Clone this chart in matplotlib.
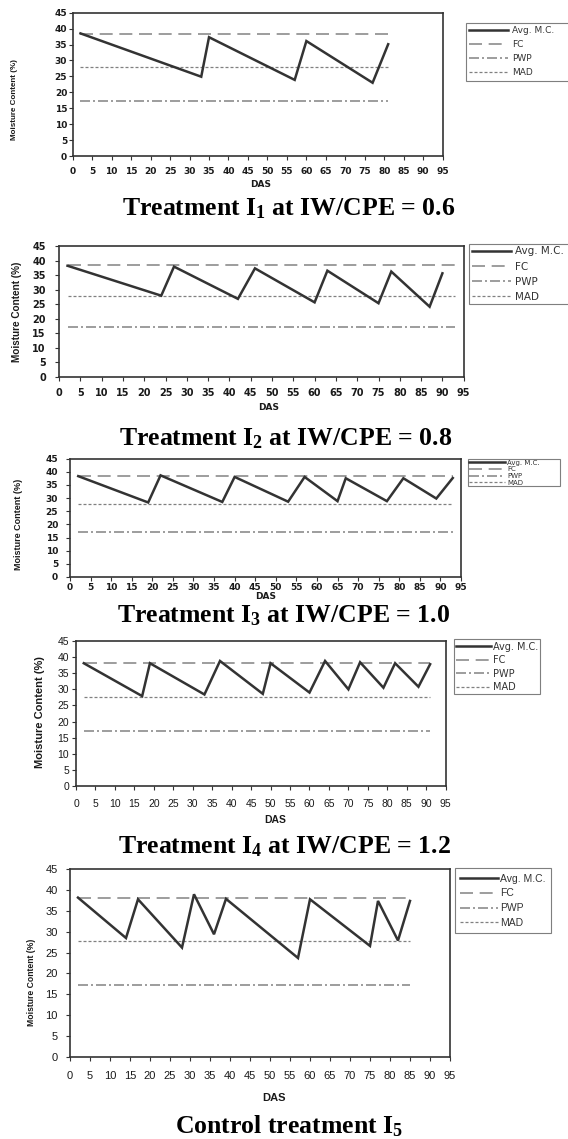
import matplotlib
matplotlib.use("Agg")
import matplotlib.pyplot as plt

W, H = 568, 1139

# ---- data ----
das_ticks = list(range(0, 100, 5))
mc_ticks = list(range(0, 50, 5))

i1_das = [2, 33, 35, 57, 60, 77, 81]
i1_mc = [38.5, 24.9, 37.3, 23.9, 36.1, 23.0, 35.1]

i2_das = [2, 24, 27, 42, 46, 60, 63, 75, 78, 87, 90]
i2_mc = [38.2, 27.9, 37.9, 26.8, 37.3, 25.6, 36.5, 25.3, 36.2, 24.1, 35.6]

i3_das = [2, 19, 22, 37, 40, 53, 57, 65, 67, 77, 81, 89, 93]
i3_mc = [38.3, 28.3, 38.6, 28.5, 38.0, 28.6, 38.0, 28.8, 37.5, 28.8, 37.5, 29.8, 37.6]

i4_das = [2, 17, 19, 33, 37, 48, 50, 60, 64, 70, 73, 79, 82, 88, 91]
i4_mc = [38.1, 27.9, 38.1, 28.4, 38.8, 28.6, 38.1, 29.0, 38.8, 30.0, 38.4, 30.5, 38.1, 30.8, 37.8]

i5_das = [2, 14, 17, 28, 31, 36, 39, 57, 60, 75, 77, 82, 85]
i5_mc = [38.2, 28.5, 37.8, 26.2, 39.0, 29.4, 37.9, 23.7, 37.8, 26.6, 37.4, 27.9, 37.4]

fc_levels = [38.3, 38.3, 38.2, 38.1, 38.2]
pwp_levels = [17.3, 17.2, 17.2, 17.1, 17.1]
mad_levels = [27.8, 27.7, 27.6, 27.5, 27.7]
ref_start = [2, 2, 2, 2, 2]
ref_end = [81, 93, 93, 91, 85]

legend_labels = ["Avg. M.C.", "FC", "PWP", "MAD"]
titles = ["Treatment I$_{1}$ at IW/CPE = 0.6",
          "Treatment I$_{2}$ at IW/CPE = 0.8",
          "Treatment I$_{3}$ at IW/CPE = 1.0",
          "Treatment I$_{4}$ at IW/CPE = 1.2",
          "Control treatment I$_{5}$"]
series = [(i1_das, i1_mc), (i2_das, i2_mc), (i3_das, i3_mc),
          (i4_das, i4_mc), (i5_das, i5_mc)]

# ---- layout (pixel positions in the 568x1139 canvas) ----
# leg_w: legend box width in px (None = natural size)
layout = [
    dict(box=(72.7, 12.7, 442.7, 156), leg=(466, 23.3), leg_w=130, leg_fs=6.5,
         leg_font="DejaVu Sans", hl=4.3, htp=0.45, ls=0.55, bp=0.35,
         tick_font="DejaVu Sans", tick_fs=6.5, tick_w="bold", xpad=5, ypad=1,
         ylab=(14.5, 100), ylab_fs=5.8,
         xlab=(261, 185), xlab_font="DejaVu Sans", xlab_fs=6.5, title=(289, 209)),
    dict(box=(59, 246, 463.7, 376.7), leg=(469, 244), leg_w=130, leg_fs=7.5,
         leg_font="DejaVu Sans", hl=3.8, htp=0.35, ls=0.49, bp=0.24,
         tick_font="DejaVu Sans", tick_fs=7, tick_w="bold", xpad=5, ypad=6.5,
         ylab=(16.8, 311.7), ylab_fs=7.2,
         xlab=(269, 408), xlab_font="DejaVu Sans", xlab_fs=6.5, title=(286, 439)),
    dict(box=(70, 458.5, 461, 577), leg=(468, 459), leg_w=92, leg_fs=5,
         leg_font="DejaVu Sans", hl=5.2, htp=0.3, ls=0.1, bp=0.1,
         tick_font="DejaVu Sans", tick_fs=6.5, tick_w="bold", xpad=1.2, ypad=5.5,
         ylab=(18.5, 524), ylab_fs=6.5,
         xlab=(266, 596.5), xlab_font="DejaVu Sans", xlab_fs=6.5, title=(284, 616)),
    dict(box=(76, 641, 445.7, 786), leg=(454, 639.3), leg_w=None, leg_fs=7,
         leg_font="DejaVu Sans", hl=3.6, htp=0.15, ls=0.36, bp=0.24,
         tick_font="Liberation Sans", tick_fs=7.5, tick_w="normal", xpad=6.5, ypad=2,
         ylab=(40, 711.7), ylab_fs=8,
         xlab=(275, 820), xlab_font="Liberation Sans", xlab_fs=7.5, title=(285, 847)),
    dict(box=(70, 869.3, 450, 1056.7), leg=(455, 868.3), leg_w=None, leg_fs=7.5,
         leg_font="Liberation Sans", hl=3.6, htp=0.25, ls=0.46, bp=0.51,
         tick_font="Liberation Sans", tick_fs=8, tick_w="normal", xpad=7.5, ypad=6,
         ylab=(31.6, 982.5), ylab_fs=6.2,
         xlab=(274, 1098), xlab_font="Liberation Sans", xlab_fs=8, title=(289, 1126)),
]

plt.rcParams["mathtext.default"] = "regular"

fig = plt.figure(figsize=(W / 100, H / 100), dpi=100)


def fx(x):
    return x / W


def fy(y):
    return 1 - y / H


for k, (days, mc) in enumerate(series):
    lay = layout[k]
    l, t, r, b = lay["box"]
    ax = fig.add_axes([fx(l), fy(b), (r - l) / W, (b - t) / H])

    ref_x = [ref_start[k], ref_end[k]]
    ax.plot(days, mc, color="#333333", lw=1.8, solid_joinstyle="miter",
            label=legend_labels[0], zorder=4)
    ax.plot(ref_x, [fc_levels[k]] * 2, color="#8c8c8c", lw=1.2,
            dashes=(7.8, 4), label=legend_labels[1])
    ax.plot(ref_x, [pwp_levels[k]] * 2, color="#8c8c8c", lw=1.2,
            dashes=(6, 1.8, 1.2, 1.8), label=legend_labels[2])
    ax.plot(ref_x, [mad_levels[k]] * 2, color="#808080", lw=0.9,
            dashes=(2.4, 1.6), label=legend_labels[3])

    ax.set_xlim(0, 95)
    ax.set_ylim(0, 45)
    ax.set_xticks(das_ticks)
    ax.set_yticks(mc_ticks)
    for s in ax.spines.values():
        s.set_color("#333333")
        s.set_linewidth(1.2)
    ax.tick_params(direction="out", length=3, width=0.8, color="#333333",
                   labelcolor="#1a1a1a", top=False, right=False)
    ax.tick_params(axis="x", pad=lay["xpad"])
    ax.tick_params(axis="y", pad=lay["ypad"])
    for lab in ax.get_xticklabels() + ax.get_yticklabels():
        lab.set_fontfamily(lay["tick_font"])
        lab.set_fontsize(lay["tick_fs"])
        lab.set_fontweight(lay["tick_w"])

    # legend box sits right of the plot, partly running off the canvas
    x0, y0 = fx(lay["leg"][0]), fy(lay["leg"][1])
    if lay["leg_w"]:
        anchor, mode = (x0, y0, lay["leg_w"] / W, 0), "expand"
    else:
        anchor, mode = (x0, y0), None
    leg = ax.legend(loc="upper left", bbox_to_anchor=anchor, mode=mode,
                    bbox_transform=fig.transFigure, borderaxespad=0,
                    prop={"family": lay["leg_font"], "size": lay["leg_fs"]},
                    handlelength=lay["hl"], handletextpad=lay["htp"],
                    labelspacing=lay["ls"], borderpad=lay["bp"],
                    fancybox=False, framealpha=1, edgecolor="#7f7f7f")
    leg.get_frame().set_linewidth(0.8)
    for txt in leg.get_texts():
        txt.set_color("#333333")

    fig.text(fx(lay["ylab"][0]), fy(lay["ylab"][1]), "Moisture Content (%)",
             rotation=90, ha="center", va="center", fontweight="bold",
             family="Liberation Sans", fontsize=lay["ylab_fs"], color="#1a1a1a")
    fig.text(fx(lay["xlab"][0]), fy(lay["xlab"][1]), "DAS", ha="center", va="center",
             fontweight="bold", family=lay["xlab_font"], fontsize=lay["xlab_fs"],
             color="#1a1a1a")
    fig.text(fx(lay["title"][0]), fy(lay["title"][1]), titles[k], ha="center", va="center",
             fontweight="bold", family="Liberation Serif", fontsize=18.5, color="black")

fig.savefig("out.png", dpi=100)
